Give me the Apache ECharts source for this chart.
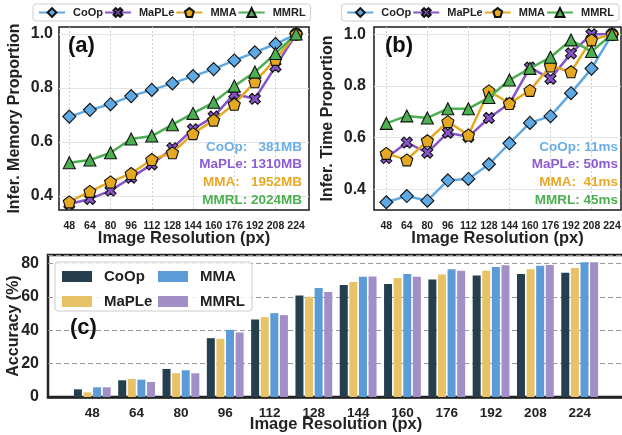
<!DOCTYPE html>
<html><head><meta charset="utf-8">
<script src="https://cdn.jsdelivr.net/npm/echarts@6/dist/echarts.min.js"></script>
<style>html,body{margin:0;padding:0;background:#fff}#c{width:622px;height:435px}</style>
</head><body><div id="c"></div>
<script>
const resolutions = [48, 64, 80, 96, 112, 128, 144, 160, 176, 192, 208, 224];
const gridResolutions = [48, 80, 112, 144, 176, 208];
const propTicks = [0.4, 0.6, 0.8, 1.0];
const methods = ['CoOp', 'MaPLe', 'MMA', 'MMRL'];

const memCoOp  = [0.694, 0.719, 0.740, 0.770, 0.793, 0.817, 0.844, 0.870, 0.902, 0.932, 0.963, 1.0];
const memMaPLe = [0.370, 0.389, 0.420, 0.468, 0.517, 0.577, 0.647, 0.694, 0.778, 0.760, 0.879, 1.0];
const memMMA   = [0.378, 0.417, 0.452, 0.483, 0.535, 0.560, 0.631, 0.681, 0.740, 0.823, 0.906, 1.0];
const memMMRL  = [0.523, 0.533, 0.560, 0.611, 0.622, 0.664, 0.706, 0.747, 0.807, 0.859, 0.928, 1.0];

const timeCoOp  = [0.350, 0.374, 0.356, 0.435, 0.440, 0.497, 0.578, 0.657, 0.683, 0.772, 0.867, 1.0];
const timeMaPLe = [0.521, 0.581, 0.542, 0.619, 0.603, 0.676, 0.732, 0.871, 0.828, 0.926, 1.0, 1.0];
const timeMMA   = [0.539, 0.514, 0.588, 0.662, 0.610, 0.781, 0.732, 0.783, 0.877, 0.855, 0.978, 1.0];
const timeMMRL  = [0.655, 0.684, 0.676, 0.712, 0.712, 0.755, 0.823, 0.868, 0.911, 0.978, 0.933, 1.0];

const accCoOp  = [4.6, 10.0, 16.8, 35.2, 46.4, 60.8, 67.0, 67.6, 70.4, 72.8, 73.6, 74.4];
const accMaPLe = [2.8, 10.8, 14.2, 34.8, 47.8, 60.0, 68.8, 71.2, 73.4, 75.6, 76.4, 77.2];
const accMMA   = [5.8, 10.4, 16.0, 40.2, 50.2, 65.2, 72.0, 73.6, 76.4, 77.8, 78.6, 80.6];
const accMMRL  = [5.8, 9.0, 14.2, 38.6, 49.0, 62.8, 72.2, 72.0, 75.6, 78.8, 79.0, 80.6];

const memNotes  = ['CoOp:   381MB', 'MaPLe: 1310MB', 'MMA:   1952MB', 'MMRL: 2024MB'];
const timeNotes = ['CoOp: 11ms', 'MaPLe: 50ms', 'MMA:  41ms', 'MMRL: 45ms'];

const FONT = 'Liberation Sans, Arial, sans-serif';
const lineColors = ['#5ea8e3', '#8653c9', '#e5a823', '#4caf50'];
const noteColors = ['#6aaee8', '#8e5bd4', '#e8a825', '#4caf50'];
const barColors = ['#263f4e', '#e8c266', '#5a9bd8', '#a38fc8'];
const X_PATH = 'path://M-0.5,-1 L0,-0.5 L0.5,-1 L1,-0.5 L0.5,0 L1,0.5 L0.5,1 L0,0.5 L-0.5,1 L-1,0.5 L-0.5,0 L-1,-0.5 Z';
const PENT_PATH = 'path://M0,-1 L0.951,-0.309 L0.588,0.809 L-0.588,0.809 L-0.951,-0.309 Z';
const symbols = ['diamond', X_PATH, PENT_PATH, 'triangle'];
const symSizes = [13, 11, 12, 12];

const memData = [memCoOp, memMaPLe, memMMA, memMMRL];
const timeData = [timeCoOp, timeMaPLe, timeMMA, timeMMRL];
const accData = [accCoOp, accMaPLe, accMMA, accMMRL];

const series = [];
[memData, timeData].forEach((set, gi) => {
  set.forEach((vals, k) => {
    series.push({
      type: 'line', name: methods[k], xAxisIndex: gi, yAxisIndex: gi,
      data: resolutions.map((r, i) => [r, vals[i]]),
      symbol: symbols[k], symbolSize: symSizes[k],
      lineStyle: { color: lineColors[k], width: 2.5 },
      itemStyle: { color: lineColors[k], borderColor: '#111', borderWidth: 1.1 },
      z: 3 + k
    });
  });
});
const padCats = [''].concat(resolutions.map(String), ['']);
accData.forEach((vals, k) => {
  series.push({
    type: 'bar', name: methods[k], xAxisIndex: 2, yAxisIndex: 2,
    data: [null].concat(vals, [null]),
    barWidth: 8, barGap: '20%',
    itemStyle: { color: barColors[k] }
  });
});

const labelStyle = { color: '#222', fontWeight: 'bold', fontFamily: FONT };
function propY(gi, min, max, name, gap, margin) {
  return {
    type: 'value', gridIndex: gi, min: min, max: max,
    name: name, nameLocation: 'middle', nameGap: gap, nameMoveOverlap: false,
    nameTextStyle: Object.assign({ fontSize: 16 }, labelStyle),
    axisLine: { show: false },
    axisTick: { show: false, customValues: propTicks },
    axisLabel: Object.assign({ customValues: propTicks, fontSize: 16, margin: margin, formatter: v => v.toFixed(1) }, labelStyle),
    splitLine: { show: true, lineStyle: { color: '#e4e4e4', width: 1 } }
  };
}
function resX(gi, min, max) {
  return {
    type: 'value', gridIndex: gi, min: min, max: max,
    name: 'Image Resolution (px)', nameLocation: 'middle', nameGap: 20, nameMoveOverlap: false,
    nameTextStyle: Object.assign({ fontSize: 16.5 }, labelStyle),
    axisLine: { show: false },
    axisTick: { show: false, customValues: gridResolutions },
    axisLabel: Object.assign({ customValues: resolutions, fontSize: 10.5, margin: 11 }, labelStyle),
    splitLine: { show: true, lineStyle: { color: '#d0d0d0', type: [2, 2], width: 1 } }
  };
}
function lineLegend(pos) {
  return Object.assign({
    top: 4, orient: 'horizontal',
    data: methods, itemWidth: 26, itemHeight: 11, itemGap: 1,
    padding: [3, 5, 3, 5],
    borderColor: '#cfcfcf', borderWidth: 1, borderRadius: 3, backgroundColor: '#fff',
    textStyle: { fontSize: 11, fontWeight: 'bold', color: '#222', fontFamily: FONT, padding: [0, 0, 0, 3] },
    selectedMode: false, z: 20
  }, pos);
}
function barLegend(left, names) {
  return {
    left: left, top: 269, orient: 'vertical',
    data: names.map(n => ({ name: n, icon: 'rect', itemStyle: { color: barColors[methods.indexOf(n)], borderWidth: 0 } })),
    itemWidth: 30, itemHeight: 11, itemGap: 10, padding: 0,
    textStyle: { fontSize: 15, fontWeight: 'bold', color: '#222', fontFamily: FONT, padding: [0, 0, 0, 7] },
    selectedMode: false, z: 5
  };
}

const graphics = [];
function note(x, y, text, color) {
  graphics.push({ type: 'text', z: 10, style: { x: x, y: y, text: text, fill: color, font: 'bold 13.5px ' + FONT, textAlign: 'right', textVerticalAlign: 'middle' } });
}
const noteYs = [147.5, 164, 182.5, 200.5];
memNotes.forEach((t, k) => note(302, noteYs[k], t, noteColors[k]));
timeNotes.forEach((t, k) => note(618, noteYs[k], t, noteColors[k]));
function tag(x, y, t) {
  graphics.push({ type: 'text', z: 10, style: { x: x, y: y, text: t, fill: '#111', font: 'bold 22px ' + FONT, textAlign: 'left', textVerticalAlign: 'middle' } });
}
tag(68, 46, '(a)');
tag(385, 46, '(b)');
tag(70, 328, '(c)');
graphics.push({ type: 'rect', z: 4, shape: { x: 55, y: 262, width: 197, height: 49, r: 3 }, style: { fill: 'rgba(255,255,255,0.85)', stroke: '#cccccc', lineWidth: 1 } });

const option = {
  animation: false,
  backgroundColor: '#fff',
  textStyle: { fontFamily: FONT },
  grid: [
    { left: 59, top: 27, width: 250, height: 183, show: true, borderColor: '#1a1a1a', borderWidth: 1.5, backgroundColor: '#fff', containLabel: false, outerBoundsMode: 'none' },
    { left: 374, top: 27, width: 247, height: 183, show: true, borderColor: '#1a1a1a', borderWidth: 1.5, backgroundColor: '#fff', containLabel: false, outerBoundsMode: 'none' },
    { left: 48, top: 255, width: 576, height: 142, show: true, borderColor: '#222', borderWidth: 2.5, backgroundColor: 'transparent', containLabel: false, outerBoundsMode: 'none' }
  ],
  xAxis: [
    resX(0, 40, 234),
    resX(1, 38.4, 231),
    {
      type: 'category', gridIndex: 2, data: padCats, boundaryGap: false,
      name: 'Image Resolution (px)', nameLocation: 'middle', nameGap: 19, nameMoveOverlap: false,
      nameTextStyle: Object.assign({ fontSize: 16.5 }, labelStyle),
      axisLine: { show: true, lineStyle: { color: '#222', width: 2.5 } },
      axisTick: { show: false },
      axisLabel: Object.assign({ fontSize: 13.5, margin: 9, interval: 0 }, labelStyle),
      splitLine: { show: false }
    }
  ],
  yAxis: [
    propY(0, 0.348, 1.026, 'Infer. Memory Proportion', 36, 6),
    propY(1, 0.320, 1.028, 'Infer. Time Proportion', 38, 8),
    {
      type: 'value', gridIndex: 2, min: 0, max: 85, interval: 20,
      name: 'Accuracy (%)', nameLocation: 'middle', nameGap: 26, nameMoveOverlap: false,
      nameTextStyle: Object.assign({ fontSize: 16 }, labelStyle),
      axisLine: { show: false },
      axisTick: { show: false },
      axisLabel: Object.assign({ fontSize: 16, margin: 9 }, labelStyle),
      splitLine: { show: true, lineStyle: { color: '#999', type: [5, 3], width: 1 } }
    }
  ],
  legend: [
    lineLegend({ left: 33 }),
    lineLegend({ right: 3 }),
    barLegend(62, ['CoOp', 'MaPLe']),
    barLegend(158, ['MMA', 'MMRL'])
  ],
  graphic: graphics,
  series: series
};
const chart = echarts.init(document.getElementById('c'), null, { renderer: 'canvas' });
chart.setOption(option);
</script></body></html>
